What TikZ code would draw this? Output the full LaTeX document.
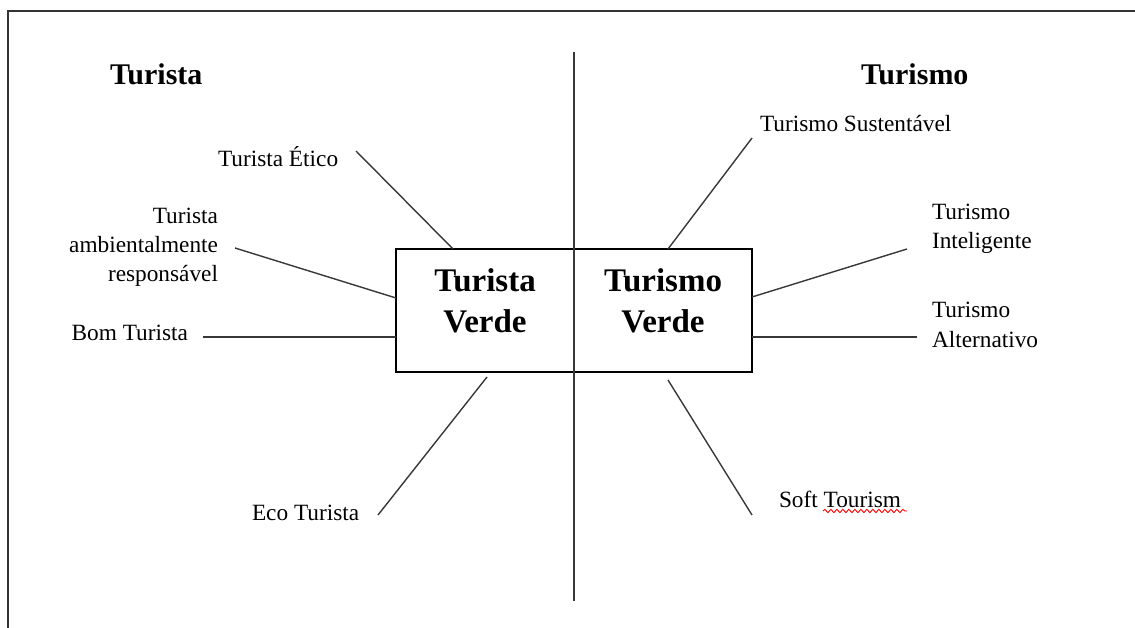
\documentclass[tikz,border=0pt]{standalone}
\usepackage{fontspec}
\setmainfont{Liberation Serif}
\usetikzlibrary{decorations.pathmorphing}
\begin{document}
\begin{tikzpicture}[x=1pt,y=-1pt,
  lbl/.style={font=\fontsize{23.3}{29}\selectfont, inner sep=0pt, outer sep=0pt},
  hd/.style={font=\fontsize{30}{36}\selectfont\bfseries, inner sep=0pt},
  bx/.style={font=\fontsize{33}{41}\selectfont\bfseries, inner sep=0pt, align=center},
  conn/.style={line width=1.4pt, draw=black!78},
  frame/.style={line width=1.8pt, draw=black!80}]
\useasboundingbox (0,0) rectangle (1135,628);
% outer frame (top and left visible)
\coordinate (fb) at (8,628);
\coordinate (fc) at (8,11);
\coordinate (fr) at (1135,11);
\draw[frame] (fb) -- (fc) -- (fr);
% central box
\node[draw=black, line width=1.8pt, minimum width=356pt, minimum height=123pt, inner sep=0pt] (box) at (574,310.5) {};
% vertical divider
\coordinate (vt) at (574,52);
\coordinate (vb) at (574,601);
\draw[conn] (vt) -- (vb);
% box texts (anchor base = last line)
\node[bx, anchor=base] (tv) at (485,332) {Turista\\Verde};
\node[bx, anchor=base] (mv) at (663,332) {Turismo\\Verde};
% headings
\node[hd, anchor=base west] (h1) at (110,85) {Turista};
\node[hd, anchor=base west] (h2) at (861,85) {Turismo};
% left labels
\node[lbl, anchor=base west] (etico) at (218,167) {Turista Ético};
\node[lbl, anchor=base east, align=right] (amb) at (218,282) {Turista\\ambientalmente\\responsável};
\node[lbl, anchor=base east] (bom) at (188,340) {Bom Turista};
\node[lbl, anchor=base west] (eco) at (252,520) {Eco Turista};
% right labels
\node[lbl, anchor=base west] (sust) at (760,132) {Turismo Sustentável};
\node[lbl, anchor=base west, align=left] (intel) at (932,249) {Turismo\\Inteligente};
\node[lbl, anchor=base west, align=left] (alt) at (932,347) {Turismo\\Alternativo};
\node[lbl, anchor=base west] (soft) at (779,507) {Soft Tourism};
% spelling underline
\coordinate (u1) at (823,511);
\coordinate (u2) at (907,511);
\draw[red, line width=0.9pt, decorate, decoration={snake, amplitude=1.6pt, segment length=6pt}] (u1) -- (u2);
% connector end points
\coordinate (e1) at (356,151);   \coordinate (b1) at (453,249);
\coordinate (e2) at (235,248);   \coordinate (b2) at (396,298);
\coordinate (e3) at (203,337);   \coordinate (b3) at (396,337);
\coordinate (e4) at (378,515);   \coordinate (b4) at (487,377);
\coordinate (e5) at (752,138);   \coordinate (b5) at (668,249);
\coordinate (e6) at (907,249);   \coordinate (b6) at (752,297);
\coordinate (e7) at (917,337);   \coordinate (b7) at (752,337);
\coordinate (e8) at (752,515);   \coordinate (b8) at (668,380);
\foreach \i in {1,...,8} { \draw[conn] (e\i) -- (b\i); }
\end{tikzpicture}
\end{document}
